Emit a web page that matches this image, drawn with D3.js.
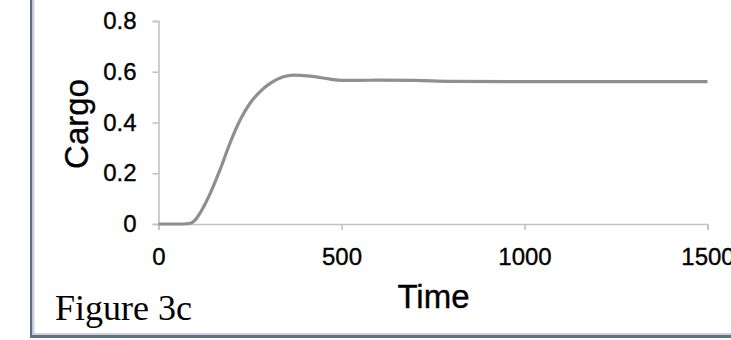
<!DOCTYPE html>
<html>
<head>
<meta charset="utf-8">
<script src="https://cdn.jsdelivr.net/npm/d3@7/dist/d3.min.js"></script>
<style>
  html, body { margin: 0; padding: 0; background: #fff; }
  svg { display: block; }
</style>
</head>
<body>
<svg id="chart" width="731" height="340"></svg>
<script>
// Simulated cargo level over time
const time  = [0, 50, 85, 100, 113, 141, 168, 195, 223, 250, 277, 305, 341, 368, 414, 469, 500, 550, 600, 700, 800, 1000, 1200, 1500];
const cargo = [0, 0, 0.002, 0.015, 0.042, 0.12, 0.213, 0.318, 0.41, 0.476, 0.521, 0.554, 0.58, 0.587, 0.583, 0.571, 0.566, 0.566, 0.567, 0.566, 0.562, 0.561, 0.561, 0.561];

const xTicks = [0, 500, 1000, 1500];
const yTicks = [0, 0.2, 0.4, 0.6, 0.8];

const xTitle = "Time";
const yTitle = "Cargo";
const caption = "Figure 3c";

const svg = d3.select("#chart");

const x = d3.scaleLinear().domain([0, 1500]).range([158.5, 707.5]);
const y = d3.scaleLinear().domain([0, 0.8]).range([224, 21]);

// Frame around the panel (left and bottom edges)
svg.append("rect").attr("x", 30).attr("y", 0).attr("width", 2.5).attr("height", 338).attr("fill", "#5d6f8a");
svg.append("rect").attr("x", 32.5).attr("y", 0).attr("width", 2).attr("height", 333).attr("fill", "#cfd2d6");
svg.append("rect").attr("x", 32.5).attr("y", 333).attr("width", 698.5).attr("height", 2).attr("fill", "#cfd2d6");
svg.append("rect").attr("x", 30).attr("y", 335).attr("width", 701).attr("height", 3).attr("fill", "#5d6f8a");

// Axes
const axisColor = "#c2c2c2";
const fontFamily = "'Liberation Sans', Arial, sans-serif";

function styleText(sel, size) {
  sel.attr("fill", "#000")
    .attr("stroke", "#000").attr("stroke-width", 0.35)
    .style("font-family", fontFamily).style("font-size", size);
}

const yAxis = svg.append("g")
  .attr("transform", `translate(${x(0)},0)`)
  .call(d3.axisLeft(y).tickValues(yTicks).tickSize(6).tickPadding(16)
    .tickFormat(d => d === 0 ? "0" : d3.format(".1f")(d)));
yAxis.select(".domain").attr("stroke", axisColor).attr("stroke-width", 1.6);
yAxis.selectAll(".tick line").attr("stroke", axisColor).attr("stroke-width", 1.6);
styleText(yAxis.selectAll(".tick text"), "24px");

const xAxis = svg.append("g")
  .attr("transform", `translate(0,${y(0)})`)
  .call(d3.axisBottom(x).tickValues(xTicks).tickSize(6).tickPadding(18).tickFormat(d3.format("d")));
xAxis.select(".domain").attr("stroke", axisColor).attr("stroke-width", 1.6);
xAxis.selectAll(".tick line").attr("stroke", axisColor).attr("stroke-width", 1.6);
styleText(xAxis.selectAll(".tick text"), "24px");

// Cargo curve
const line = d3.line()
  .x((d, i) => x(time[i]))
  .y(d => y(d))
  .curve(d3.curveMonotoneX);

svg.append("path")
  .datum(cargo)
  .attr("d", line)
  .attr("fill", "none")
  .attr("stroke", "#8f8f8f")
  .attr("stroke-width", 3.2)
  .attr("stroke-linejoin", "round");

// Axis titles
styleText(svg.append("text")
  .attr("x", 433.5).attr("y", 308)
  .attr("text-anchor", "middle")
  .text(xTitle), "33px");

styleText(svg.append("text")
  .attr("transform", "translate(88,124) rotate(-90)")
  .attr("text-anchor", "middle")
  .text(yTitle), "33px");

// Caption
svg.append("text")
  .attr("x", 55).attr("y", 320)
  .style("font-family", "'Liberation Serif', 'Times New Roman', serif").style("font-size", "36px")
  .text(caption);
</script>
</body>
</html>
